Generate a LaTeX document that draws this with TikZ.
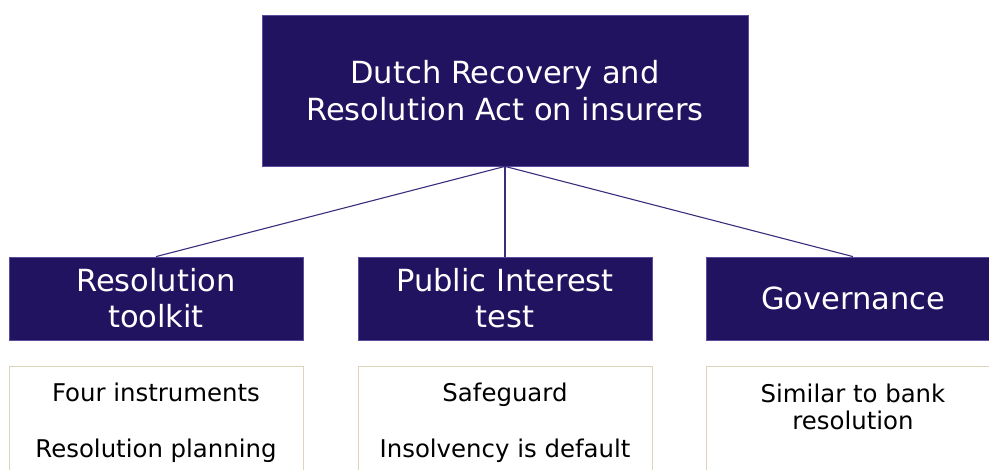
\documentclass[tikz,border=0pt]{standalone}
\usepackage{fontspec}
\setmainfont{DejaVu Sans}
\definecolor{navy}{HTML}{21135F}
\definecolor{navyedge}{HTML}{5B4C9E}
\definecolor{linkc}{HTML}{3A2D7C}
\definecolor{tan}{HTML}{DDD3B8}
\tikzset{
  headbox/.style={draw=navyedge, line width=0.8pt, fill=navy, text=white, align=center,
    minimum width=294pt, minimum height=83pt, inner sep=0pt,
    font=\fontsize{30.5}{36}\selectfont},
  lightbox/.style={draw=tan, line width=1pt, fill=white, minimum width=294pt, minimum height=115pt, inner sep=0pt},
  bodytext/.style={anchor=base, text=black, inner sep=0pt, align=center, font=\fontsize{24.4}{27}\selectfont},
  link/.style={draw=linkc, line width=1.1pt}
}
\begin{document}
\begin{tikzpicture}[x=1pt,y=-1pt]
\useasboundingbox (0,0) rectangle (989,470);
\node[headbox, minimum width=486pt, minimum height=151pt, font=\fontsize{30.5}{37}\selectfont] (top) at (505,90.5) {Dutch Recovery and\\Resolution Act on insurers};
\node[headbox] (h1) at (156,298.5) {Resolution\\toolkit};
\node[headbox] (h2) at (505,298.5) {Public Interest\\test};
\node[headbox] (h3) at (853,298.5) {Governance};
\draw[link] (top.south) -- (h1.north);
\draw[link] (top.south) -- (h2.north);
\draw[link] (top.south) -- (h3.north);
\node[lightbox] (b1) at (156,424.5) {};
\node[lightbox] (b2) at (505,424.5) {};
\node[lightbox] (b3) at (853,424.5) {};
\node[bodytext] (t1a) at (156,402) {Four instruments};
\node[bodytext] (t1b) at (156,458) {Resolution planning};
\node[bodytext] (t2a) at (505,402) {Safeguard};
\node[bodytext] (t2b) at (505,458) {Insolvency is default};
\node[bodytext] (t3a) at (853,403) {Similar to bank};
\node[bodytext] (t3b) at (853,430) {resolution};
\end{tikzpicture}
\end{document}
